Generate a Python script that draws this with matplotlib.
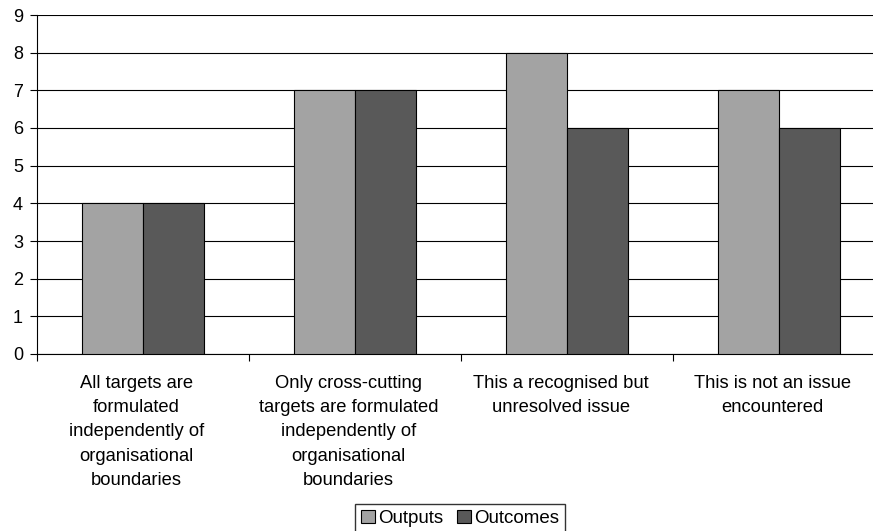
import numpy as np
import matplotlib.pyplot as plt

categories = [
    "All targets are\nformulated\nindependently of\norganisational\nboundaries",
    "Only cross-cutting\ntargets are formulated\nindependently of\norganisational\nboundaries",
    "This a recognised but\nunresolved issue",
    "This is not an issue\nencountered",
]
outputs = [4, 7, 8, 7]
outcomes = [4, 7, 6, 6]

plt.rcParams["font.family"] = ["Liberation Sans", "DejaVu Sans"]

fig = plt.figure(figsize=(8.73, 5.31), dpi=100)
ax = fig.add_axes([37 / 873, 1 - 354 / 531, (885 - 37) / 873, (354 - 15) / 531])

x = np.arange(len(categories))
w = 0.287
ax.bar(x - w / 2, outputs, w, color="#a3a3a3", edgecolor="black", linewidth=0.8,
       label="Outputs", zorder=3)
ax.bar(x + w / 2, outcomes, w, color="#595959", edgecolor="black", linewidth=0.8,
       label="Outcomes", zorder=3)

ax.set_xlim(-0.5, len(categories) - 0.5)
ax.set_ylim(0, 9)
ax.set_yticks(range(10))
ax.yaxis.grid(True, color="black", linewidth=0.8, zorder=0)
ax.set_axisbelow(True)

ax.set_xticks(np.arange(len(categories) + 1) - 0.5)
ax.set_xticklabels([])
ax.tick_params(axis="x", length=5, width=0.8, color="black")
ax.tick_params(axis="y", length=5, width=0.8, labelsize=13, pad=5)
for xi, lab in zip(x, categories):
    ax.text(xi - 0.03, -0.56, lab, ha="center", va="top", fontsize=13.2,
            linespacing=1.55, transform=ax.transData)

for s in ["top", "right"]:
    ax.spines[s].set_visible(False)
ax.spines["left"].set_linewidth(0.8)
ax.spines["bottom"].set_linewidth(0.8)

fig.legend(loc="upper center", bbox_to_anchor=(460 / 873, 1 - 504 / 531), ncol=2,
           frameon=True, fancybox=False, edgecolor="black", fontsize=13.5,
           handlelength=0.75, handleheight=0.75, handletextpad=0.2,
           columnspacing=0.7, borderpad=0.3, borderaxespad=0)

fig.savefig("out.png", dpi=100)
